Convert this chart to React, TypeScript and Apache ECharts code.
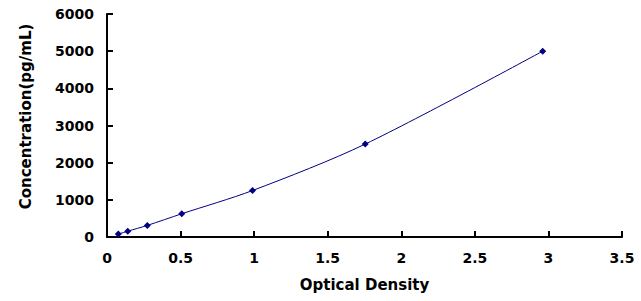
import React, { useEffect, useRef } from "react";
import * as echarts from "echarts";

// Standard curve: optical density vs. concentration
const opticalDensity = [0.077, 0.141, 0.274, 0.508, 0.989, 1.755, 2.961];
const concentration = [78, 156, 312, 625, 1250, 2500, 5000];

const xTicks = { min: 0, max: 3.5, interval: 0.5 };
const yTicks = { min: 0, max: 6000, interval: 1000 };

const FONT = "'DejaVu Sans', sans-serif";

export default function App() {
  const ref = useRef<HTMLDivElement>(null);

  useEffect(() => {
    if (!ref.current) return;
    const chart = echarts.init(ref.current, undefined, { renderer: "svg" });
    const axisCommon = {
      axisLine: { show: true, lineStyle: { color: "#000", width: 2 } },
      axisTick: { show: true, inside: true, length: 6, lineStyle: { color: "#000", width: 2 } },
      splitLine: { show: false },
      axisLabel: {
        color: "#000",
        fontFamily: FONT,
        fontWeight: "bold" as const,
        fontSize: 14,
        formatter: (v: number) => String(v),
      },
      nameTextStyle: { color: "#000", fontFamily: FONT, fontWeight: "bold" as const, fontSize: 15 },
    };
    chart.setOption({
      animation: false,
      backgroundColor: "#fff",
      grid: { left: 107, right: 19, top: 14, bottom: 64, containLabel: false },
      xAxis: {
        type: "value",
        ...xTicks,
        name: "Optical Density",
        nameLocation: "middle",
        nameGap: 40,
        ...axisCommon,
        axisLabel: { ...axisCommon.axisLabel, margin: 14 },
      },
      yAxis: {
        type: "value",
        ...yTicks,
        name: "Concentration(pg/mL)",
        nameLocation: "middle",
        nameGap: 74,
        ...axisCommon,
        nameTextStyle: { ...axisCommon.nameTextStyle, padding: [0, 0, 0, 18] },
        axisLabel: { ...axisCommon.axisLabel, margin: 13 },
      },
      series: [
        {
          type: "line",
          data: opticalDensity.map((x, i) => [x, concentration[i]]),
          smooth: 0.3,
          symbol: "diamond",
          symbolSize: 7,
          lineStyle: { color: "#000080", width: 1 },
          itemStyle: { color: "#000080" },
        },
      ],
    });
    return () => chart.dispose();
  }, []);

  return (
    <div
      ref={ref}
      style={{ position: "absolute", left: 0, top: 0, width: 641, height: 301, background: "#fff" }}
    />
  );
}
